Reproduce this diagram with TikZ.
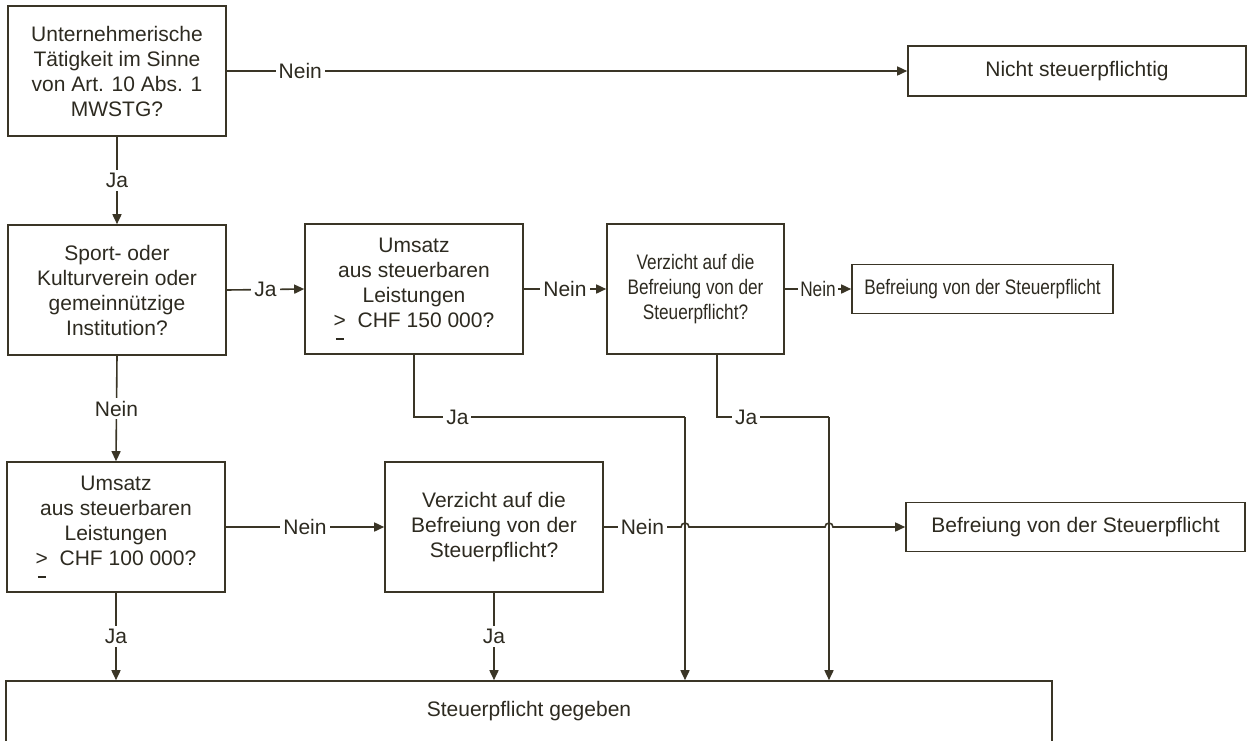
\documentclass[tikz,border=0pt]{standalone}
\usepackage{fontspec}
\setmainfont{Liberation Sans}
\newfontfamily\condfont[FakeStretch=0.82]{Liberation Sans}
\usepackage{tikz}
\usetikzlibrary{arrows.meta,calc}
\definecolor{lineclr}{RGB}{58,53,38}
\definecolor{txtclr}{RGB}{45,42,32}
\newcommand{\geqbroken}{\makebox[0pt][l]{\hspace{0.1em}\raisebox{-0.55em}{\rule{0.38em}{0.07em}}}>}
\tikzset{
  box/.style={rectangle, draw=lineclr, line width=1.6pt, text=txtclr, align=center, inner sep=2pt, font=\fontsize{21}{25}\selectfont},
  cond/.style={font=\fontsize{21}{25}\selectfont\condfont},
  fwd/.style={-{Triangle[length=10pt,width=9pt]}, draw=lineclr, line width=1.6pt},
  plain/.style={draw=lineclr, line width=1.6pt},
  lbl/.style={fill=white, text=txtclr, inner sep=3pt, font=\fontsize{21}{25}\selectfont},
}

\begin{document}
\begin{tikzpicture}[x=1pt, y=-1pt]
\useasboundingbox (0,0) rectangle (1248,740);
\clip (0,0) rectangle (1248,740);

%Nodes
\node[box, minimum width=218pt, minimum height=130pt] (taet) at (117,71) {Unternehmerische\\T\"atigkeit im Sinne\\von Art. 10 Abs. 1\\MWSTG?};
\node[box, minimum width=338pt, minimum height=50pt] (nicht) at (1077,71) {Nicht steuerpflichtig};
\node[box, minimum width=218pt, minimum height=130pt] (verein) at (117,290) {Sport- oder\\Kulturverein oder\\gemeinn\"utzige\\Institution?};
\node[box, minimum width=218pt, minimum height=130pt] (ums150) at (414,289) {Umsatz\\aus steuerbaren\\Leistungen\\\geqbroken\ \ CHF 150 000?};
\node[box, cond, minimum width=177pt, minimum height=130pt] (verz1) at (695.5,289) {Verzicht auf die\\Befreiung von der\\Steuerpflicht?};
\node[box, cond, minimum width=261pt, minimum height=49pt] (befr1) at (982.5,289) {Befreiung von der Steuerpflicht};
\node[box, minimum width=218pt, minimum height=130pt] (ums100) at (116,527) {Umsatz\\aus steuerbaren\\Leistungen\\\geqbroken\ \ CHF 100 000?};
\node[box, minimum width=218pt, minimum height=130pt] (verz2) at (494,527) {Verzicht auf die\\Befreiung von der\\Steuerpflicht?};
\node[box, minimum width=339pt, minimum height=49pt] (befr2) at (1075.5,527) {Befreiung von der Steuerpflicht};
\node[box, minimum width=1046pt, minimum height=61pt] (pflicht) at (529,711.5) {Steuerpflicht gegeben};

\coordinate (ja150) at (685,417);
\coordinate (javerz) at (829,417);

%Lines
\draw[fwd] (taet.east) -- node[lbl, pos=0.108] {Nein} (nicht.west);
\draw[fwd] (taet.south) -- node[lbl] {Ja} (verein.north);
\draw[fwd] (verein.east) -- node[lbl] {Ja} (ums150.west);
\draw[fwd] (ums150.east) -- node[lbl] {Nein} (verz1.west);
\draw[fwd] (verz1.east) -- node[lbl, cond, inner sep=2pt] {Nein} (befr1.west);
\draw[fwd] (verein.south) -- node[lbl] {Nein} (ums100.north);
\draw[fwd] (ums100.east) -- node[lbl] {Nein} (verz2.west);
\draw[fwd] (verz2.east) -- node[lbl] {Nein} ($(verz2.east -| ja150)+(-4,0)$)
  arc[start angle=180, end angle=0, radius=4pt] -- ($(verz2.east -| javerz)+(-4,0)$)
  arc[start angle=180, end angle=0, radius=4pt] -- (befr2.west);
\draw[plain] (ums150.south) |- node[lbl, pos=0.58] {Ja} (ja150);
\draw[fwd] (ja150) -- (ja150 |- pflicht.north);
\draw[plain] ([xshift=21.5pt]verz1.south) |- node[lbl, pos=0.63] {Ja} (javerz);
\draw[fwd] (javerz) -- (javerz |- pflicht.north);
\draw[fwd] (ums100.south) -- node[lbl] {Ja} (ums100.south |- pflicht.north);
\draw[fwd] (verz2.south) -- node[lbl] {Ja} (verz2.south |- pflicht.north);
\end{tikzpicture}
\end{document}
